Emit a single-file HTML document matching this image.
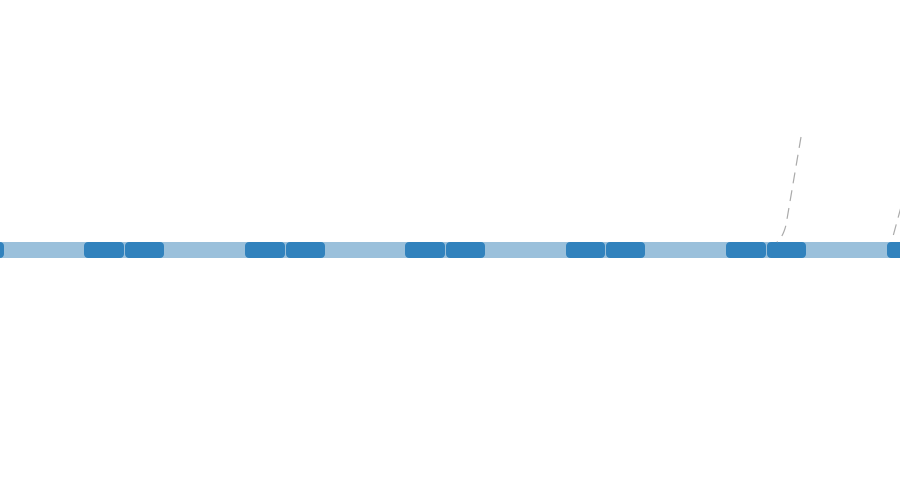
<!DOCTYPE html>
<html><head><style>html,body{margin:0;padding:0;background:#fff;width:900px;height:500px;overflow:hidden}</style></head>
<body>
<svg width="900" height="500" viewBox="0 0 900 500" xmlns="http://www.w3.org/2000/svg">
<rect x="0" y="242" width="900" height="16" fill="#9ac0db"/>
<g fill="#3182bd">
<rect x="-36" y="242" width="40" height="16" rx="4"/>
<rect x="84" y="242" width="40" height="16" rx="4"/><rect x="125" y="242" width="39" height="16" rx="4"/>
<rect x="245" y="242" width="40" height="16" rx="4"/><rect x="286" y="242" width="39" height="16" rx="4"/>
<rect x="405" y="242" width="40" height="16" rx="4"/><rect x="446" y="242" width="39" height="16" rx="4"/>
<rect x="566" y="242" width="39" height="16" rx="4"/><rect x="606" y="242" width="39" height="16" rx="4"/>
<rect x="726" y="242" width="40" height="16" rx="4"/><rect x="767" y="242" width="39" height="16" rx="4"/>
<rect x="887" y="242" width="40" height="16" rx="4"/>
</g>
<g fill="none" stroke="#aaa" stroke-width="1.2" stroke-dasharray="11,7">
<path d="M801,137 L786,225 Q783,237 777,242"/>
<path d="M901,207 L892,240"/>
</g>
</svg>
</body></html>
